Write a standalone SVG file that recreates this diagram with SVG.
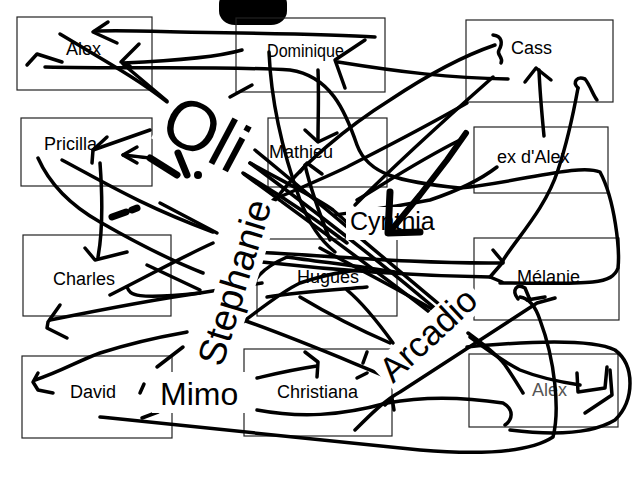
<svg xmlns="http://www.w3.org/2000/svg" width="640" height="480" viewBox="0 0 640 480">
<style>
.box{fill:none;stroke:#222;stroke-width:1.2}
.lbl{font-family:"Liberation Sans",Arial,sans-serif;font-size:18px;fill:#000}
.big{font-family:"Liberation Sans",Arial,sans-serif;fill:#000}
.s{fill:none;stroke:#000;stroke-width:3.5;stroke-linecap:round;stroke-linejoin:round}
.t{fill:none;stroke:#000;stroke-width:7;stroke-linecap:round;stroke-linejoin:round}
.bg{fill:#fff}
</style>
<rect width="640" height="480" fill="#fff"/>
<rect x="219" y="-10" width="68" height="35" rx="16" ry="14" fill="#000"/>

<g id="n-alex"><rect class="box" x="17" y="17" width="135" height="73"/><text class="lbl" x="66" y="55">Alex</text></g>
<g id="n-dominique"><rect class="box" x="236" y="18" width="149" height="74"/><text class="lbl" x="267" y="57" textLength="77" lengthAdjust="spacingAndGlyphs">Dominique</text></g>
<g id="n-cass"><rect class="box" x="466" y="20" width="147" height="82"/><text class="lbl" x="511" y="54">Cass</text></g>
<g id="n-pricilla"><rect class="box" x="21" y="118" width="131" height="68"/><text class="lbl" x="44" y="150">Pricilla</text></g>
<g id="n-mathieu"><rect class="box" x="268" y="118" width="119" height="69"/><text class="lbl" x="269" y="158">Mathieu</text></g>
<g id="n-exalex"><rect class="box" x="474" y="127" width="134" height="66"/><text class="lbl" x="497" y="163">ex d'Alex</text></g>
<g id="n-charles"><rect class="box" x="23" y="235" width="148" height="81"/><text class="lbl" x="53" y="285">Charles</text></g>
<g id="n-hugues"><rect class="box" x="257" y="239" width="140" height="77"/><text class="lbl" x="297" y="283">Hugues</text></g>
<g id="n-melanie"><rect class="box" x="474" y="238" width="145" height="82"/><text class="lbl" x="517" y="283">Mélanie</text></g>
<g id="n-david"><rect class="box" x="22" y="356" width="150" height="82"/><text class="lbl" x="70" y="398">David</text></g>
<g id="n-christiana"><rect class="box" x="244" y="349" width="148" height="87"/><text class="lbl" x="277" y="398">Christiana</text></g>
<g id="n-alex2"><rect class="box" x="469" y="354" width="149" height="73"/><text class="lbl" x="532" y="396" style="fill:#555">Alex</text></g>

<g id="connectors">
<path class="s" d="M375,37 C330,34 250,33 180,32 C150,31 120,30 95,31"/>
<path class="s" d="M108,22 L93,32 L117,43"/>
<path class="s" d="M242,50 C215,58 170,61 123,63"/>
<path class="s" d="M139,44 L121,62 L130,66"/>
<path class="s" d="M123,64 L167,101"/>
<path class="s" d="M60,34 C100,58 140,80 167,102"/>
<path class="s" d="M27,65 L37,54 L62,62"/>
<path class="s" d="M45,67 C130,69 230,66 290,70 C330,76 345,110 357,145 C368,175 400,182 460,188 C520,182 580,163 600,172 C615,200 620,250 618,268 C612,285 590,284 500,283"/>
<path class="s" d="M508,79 C450,78 400,72 338,62"/>
<path class="s" d="M365,40 L335,60 L345,88"/>
<path class="s" d="M230,97 L252,85"/>
<path class="s" d="M493,35 C502,36 503,43 499,50 C496,55 504,57 501,63"/>
<path class="s" d="M495,45 C460,57 420,80 390,100 C350,125 300,165 273,203"/>
<path class="s" d="M493,77 C450,115 400,160 355,205"/>
<path class="s" d="M467,103 C420,130 380,150 347,167 C320,180 295,190 273,200"/>
<path class="s" d="M460,140 C420,160 390,180 357,200"/>
<path class="s" d="M318,70 C319,95 318,120 318,140"/>
<path class="s" d="M305,130 L318,142 L337,133"/>
<path class="s" d="M269,52 C271,100 282,150 300,200 C310,225 320,240 335,252"/>
<path class="s" d="M300,172 L307,163 L322,174"/>
<path class="s" d="M305,165 C312,195 322,220 330,240"/>
<path class="s" d="M544,136 C542,115 540,95 539,70"/>
<path class="s" d="M525,82 L536,68 L551,80"/>
<path class="s" d="M502,262 C515,240 545,210 558,170 C568,140 574,110 578,88"/>
<path class="s" d="M578,88 C572,82 577,76 585,79 C590,85 593,95 597,100"/>
<path class="s" d="M497,167 C480,180 460,190 430,200 C400,206 370,210 335,215"/>
<path class="s" d="M493,250 L503,262 L490,277 L502,282"/>
<path class="s" d="M255,252 C330,256 420,264 503,263"/>
<path class="s" d="M262,262 C350,272 430,276 490,277"/>
<path class="s" d="M250,163 C300,200 380,262 437,310"/>
<path class="s" d="M244,174 C300,215 370,266 432,314"/>
<path class="s" d="M255,150 C310,195 380,255 440,305"/>
<path class="s" d="M320,248 C360,270 400,290 437,312"/>
<path class="s" d="M250,163 C290,185 320,200 333,210 C345,220 355,230 360,237"/>
<path class="s" d="M243,173 C280,195 317,220 347,243"/>
<path class="s" d="M470,337 C490,352 510,365 520,370 C540,378 560,382 580,385"/>
<path class="s" d="M468,333 C480,342 495,352 505,365 C512,375 518,385 523,393"/>
<path class="s" d="M467,347 C520,342 590,338 615,350 C635,365 635,400 615,420 C590,435 550,435 510,430"/>
<path class="s" d="M577,373 L578,392 L605,388 L607,367"/>
<path class="s" d="M585,413 L612,395 L610,370"/>
<path class="s" d="M100,417 C200,428 300,437 420,450 C480,455 530,452 553,437 C560,410 555,360 540,320 C535,305 528,298 520,297"/>
<path class="s" d="M518,299 C511,290 517,283 525,288 L530,300 M527,300 L545,297"/>
<path class="s" d="M257,410 C300,418 340,416 387,403 C430,395 470,398 503,403 C515,410 512,420 505,425"/>
<path class="s" d="M355,430 C370,415 385,400 400,392 C430,372 480,340 537,303 L555,298"/>
<path class="s" d="M385,405 L392,398 L394,410"/>
<path class="s" d="M38,158 C50,185 70,205 100,222 C140,245 175,262 203,273"/>
<path class="s" d="M62,160 C100,180 140,205 213,232"/>
<path class="s" d="M110,295 C150,275 180,258 213,243"/>
<path class="s" d="M147,265 L200,290"/>
<path class="s" d="M127,287 C130,295 135,300 200,293"/>
<path class="s" d="M150,130 L93,150"/>
<path class="s" d="M107,137 L93,150 L92,163"/>
<path class="s" d="M137,147 L123,155 L137,163"/>
<path class="s" d="M123,155 C132,156 142,157 150,158"/>
<path class="s" d="M100,163 C102,190 103,230 98,257"/>
<path class="s" d="M85,248 L95,260 L127,252"/>
<path class="s" d="M60,305 L48,322 L47,328 L67,338"/>
<path class="s" d="M50,320 C100,310 150,300 200,293 C230,288 250,285 262,283"/>
<path class="s" d="M35,380 C60,372 80,360 100,353 C140,340 170,335 187,332"/>
<path class="s" d="M38,373 L33,382 L38,390 L53,393"/>
<path class="s" d="M140,393 L144,384"/>
<path class="s" d="M142,418 L158,412"/>
<path class="s" d="M157,367 L183,347"/>
<path class="s" d="M257,378 C270,375 290,370 317,366"/>
<path class="s" d="M305,352 L318,362 L317,377"/>
<path class="s" d="M363,363 L367,352"/>
<path class="s" d="M357,378 L367,373"/>
<path class="s" d="M243,320 C300,340 350,362 390,378"/>
<path class="s" d="M243,322 C265,305 285,290 300,283 C325,275 345,270 367,270"/>
<path class="s" d="M248,297 C252,280 262,268 287,257 C320,262 360,266 400,273"/>
<path class="s" d="M267,297 C300,292 333,290 367,287"/>
<path class="s" d="M300,297 C330,315 360,330 390,343"/>
<path class="s" d="M347,290 C365,305 380,325 393,343"/>
<path class="s" d="M160,203 L217,233"/>
<path class="t" d="M112,217 L126,212 M132,210 L137,208"/>
</g>

<g id="lbl-oli" transform="translate(156.5,134.4) rotate(28)">
<rect class="bg" x="-3" y="-56" width="92" height="62"/>
<text class="big" x="0" y="0" font-size="70">Oli</text>
</g>
<g id="marks">
<path class="t" d="M150,158 L177,175"/>
<path class="t" d="M178,153 L187,175"/>
<circle cx="198" cy="175" r="4"/>
</g>
<g id="lbl-stephanie" transform="translate(222,368) rotate(-73)">
<rect class="bg" x="-3" y="-30" width="178" height="38"/>
<text class="big" x="0" y="0" font-size="38">Stephanie</text>
</g>
<g id="lbl-arcadio" transform="translate(393,384) rotate(-43)">
<rect class="bg" x="-4" y="-28" width="128" height="34"/>
<text class="big" x="0" y="0" font-size="35">Arcadio</text>
</g>
<g id="lbl-mimo">
<rect class="bg" x="152" y="372" width="103" height="41"/>
<text class="big" x="160" y="405" font-size="32">Mimo</text>
</g>
<g id="lbl-cynthia">
<rect class="bg" x="346" y="207" width="90" height="33"/>
<text class="big" x="350" y="230" font-size="25">Cynthia</text>
</g>
<g id="thick-arrow">
<path class="t" d="M466,133 L447,160 L420,195 L393,228" style="stroke-width:6"/>
<path class="t" d="M390,192 L388,233 L420,232"/>
</g>
</svg>
